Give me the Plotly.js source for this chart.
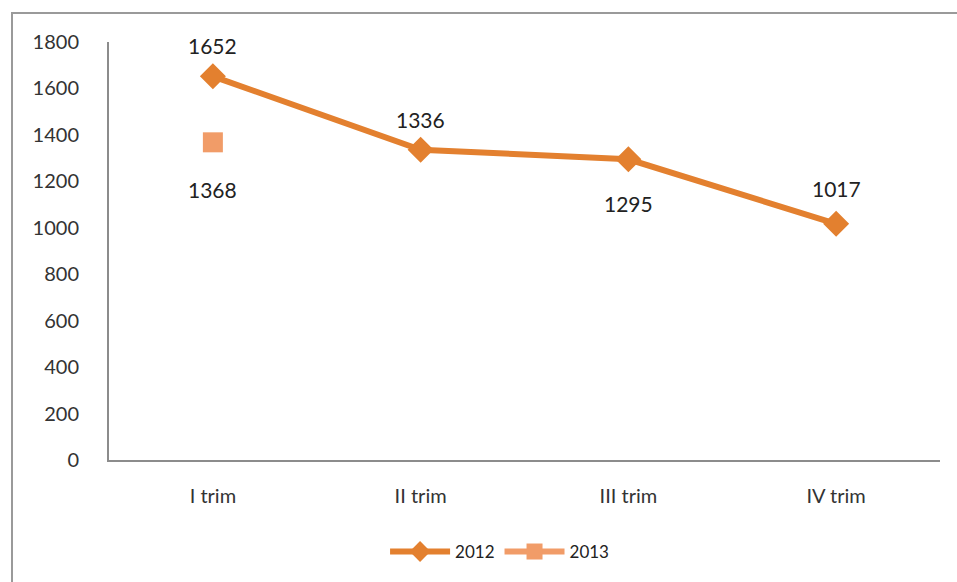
<!DOCTYPE html>
<html>
<head>
<meta charset="utf-8">
<script src="https://cdn.plot.ly/plotly-3.0.1.min.js"></script>
<style>
  html, body { margin: 0; padding: 0; background: #fff; }
  #wrap { position: relative; width: 957px; height: 582px; overflow: hidden; }
  #frame { position: absolute; left: 11px; top: 12px; width: 960px; height: 580px; border: 2px solid #9a9a9a; box-sizing: border-box; pointer-events: none; }
  #chart { position: absolute; left: 0; top: 0; width: 957px; height: 582px; }
</style>
</head>
<body>
<div id="wrap">
  <div id="chart"></div>
  <div id="frame"></div>
</div>
<script>
const categories = ["I trim", "II trim", "III trim", "IV trim"];
const series2012 = [1652, 1336, 1295, 1017];
const series2013 = [1368, null, null, null];
const yTicks = [0, 200, 400, 600, 800, 1000, 1200, 1400, 1600, 1800];

const font = "Lato, 'Open Sans', 'Liberation Sans', sans-serif";
const c2012 = "#E3802F";
const c2013 = "#F19C68";

const traces = [
  {
    x: categories, y: series2012, name: "2012", type: "scatter", mode: "lines+markers",
    line: { color: c2012, width: 6 },
    marker: { symbol: "diamond", size: 20, color: c2012 },
    hoverinfo: "skip"
  },
  {
    x: categories, y: series2013, name: "2013", type: "scatter", mode: "lines+markers",
    line: { color: c2013, width: 6 },
    marker: { symbol: "square", size: 20, color: c2013 },
    hoverinfo: "skip"
  }
];

const shifts2012 = [31, 30, -44, 35];
const shifts2013 = [-47, 0, 0, 0];
const labelFont = { family: font, size: 21, color: "#222" };
const annotations = [];
series2012.forEach((v, i) => {
  if (v !== null) annotations.push({ x: categories[i], y: v, text: String(v), showarrow: false, yshift: shifts2012[i], font: labelFont });
});
series2013.forEach((v, i) => {
  if (v !== null) annotations.push({ x: categories[i], y: v, text: String(v), showarrow: false, yshift: shifts2013[i], font: labelFont });
});

const layout = {
  width: 957, height: 582,
  margin: { l: 109, r: 17, t: 42, b: 119 },
  paper_bgcolor: "#fff", plot_bgcolor: "#fff",
  font: { family: font, size: 20, color: "#333" },
  showlegend: true,
  legend: { orientation: "h", x: 0.47, xanchor: "center", y: -0.22, yanchor: "middle", font: { family: font, size: 17, color: "#222" }, itemwidth: 60 },
  xaxis: {
    type: "category", range: [-0.5, 3.5], showgrid: false, zeroline: false,
    showline: true, linecolor: "#8c8c8c", linewidth: 2,
    ticks: "outside", tickcolor: "rgba(0,0,0,0)", ticklen: 17,
    tickfont: { family: font, size: 20, color: "#333" }
  },
  yaxis: {
    range: [0, 1800], tickvals: yTicks, ticktext: yTicks.map(String), showgrid: false, zeroline: false,
    showline: true, linecolor: "#8c8c8c", linewidth: 2,
    ticks: "outside", tickcolor: "rgba(0,0,0,0)", ticklen: 24,
    tickfont: { family: font, size: 20, color: "#333" }
  },
  annotations: annotations
};

Plotly.newPlot("chart", traces, layout, { staticPlot: true, displayModeBar: false });
</script>
</body>
</html>
